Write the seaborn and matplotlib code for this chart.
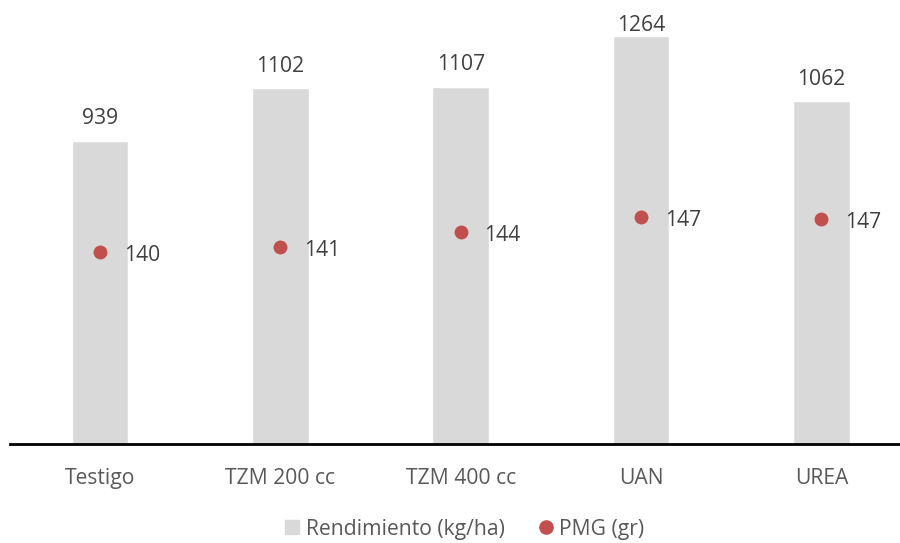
import matplotlib
matplotlib.use("Agg")
import matplotlib.pyplot as plt
from matplotlib.lines import Line2D
import numpy as np
import pandas as pd
import seaborn as sns

# Data
tratamientos = ["Testigo", "TZM 200 cc", "TZM 400 cc", "UAN", "UREA"]
rendimiento = [939, 1102, 1107, 1264, 1062]        # kg/ha
pmg = [140.0, 141.0, 144.0, 147.0, 146.6]            # g

BAR_COLOR = "#d9d9d9"
DOT_COLOR = "#c0504d"
LABEL_COLOR = "#404040"
TICK_COLOR = "#595959"
FS = 15.2

sns.set_theme(style="white")
plt.rcParams["font.family"] = ["Open Sans", "DejaVu Sans"]

df = pd.DataFrame({"Tratamiento": tratamientos,
                   "Rendimiento": rendimiento,
                   "PMG": pmg})

DPI = 100
fig = plt.figure(figsize=(9.0, 5.43), dpi=DPI)
ax = fig.add_axes([10 / 900, 99 / 543, 901.5 / 900, 444 / 543])

sns.barplot(data=df, x="Tratamiento", y="Rendimiento", order=tratamientos,
            color=BAR_COLOR, saturation=1, width=0.314, ax=ax)
ax.set_ylim(0, 1375.6)

ax2 = ax.twinx()
sns.stripplot(data=df, x="Tratamiento", y="PMG", order=tratamientos,
              jitter=False, color=DOT_COLOR, size=10, linewidth=0, ax=ax2)
ax2.set_ylim(101.54, 190.34)
ax.set_xlim(-0.5, 4.5)
ax2.set_xlim(-0.5, 4.5)

# Bar value labels, kept inside the figure when a bar reaches the top
fig_h_px = fig.get_figheight() * DPI
max_baseline_px = fig_h_px - 30.7
for i, v in enumerate(rendimiento):
    top_px = ax.transData.transform((i, v))[1]
    off_px = min(16.7, max_baseline_px - top_px)
    ax.annotate(f"{v:.0f}", (i, v), xytext=(0, off_px * 72 / DPI),
                textcoords="offset points", ha="center", va="baseline",
                fontsize=FS, color=LABEL_COLOR)

# Point value labels
for i, v in enumerate(pmg):
    ax2.annotate(f"{v:.0f}", (i, v), xytext=(17, -6.7), textcoords="offset points",
                 ha="left", va="baseline", fontsize=FS, color=LABEL_COLOR)

# Axes styling: only the baseline remains
for a in (ax, ax2):
    a.set_xlabel("")
    a.set_ylabel("")
    a.set_yticks([])
    for s in ("top", "left", "right", "bottom"):
        a.spines[s].set_visible(False)
ax.spines["bottom"].set_visible(True)
ax.spines["bottom"].set_color("black")
ax.spines["bottom"].set_linewidth(2)
ax.tick_params(axis="x", length=0, pad=17, labelsize=FS, labelcolor=TICK_COLOR)
ax2.tick_params(axis="x", length=0, labelbottom=False)

# Legend
handles = [
    Line2D([], [], marker="s", linestyle="none", markersize=9.5,
           markerfacecolor=BAR_COLOR, markeredgecolor=BAR_COLOR,
           label="Rendimiento (kg/ha)"),
    Line2D([], [], marker="o", linestyle="none", markersize=9.5,
           markerfacecolor=DOT_COLOR, markeredgecolor=DOT_COLOR,
           label="PMG (gr)"),
]
fig.legend(handles=handles, loc="center", bbox_to_anchor=(0.516, 14 / 543),
           ncol=2, frameon=False, fontsize=FS, labelcolor=TICK_COLOR,
           handlelength=0.7, handletextpad=0.3, columnspacing=1.6,
           borderaxespad=0, borderpad=0)

fig.savefig("out.png", dpi=DPI)
